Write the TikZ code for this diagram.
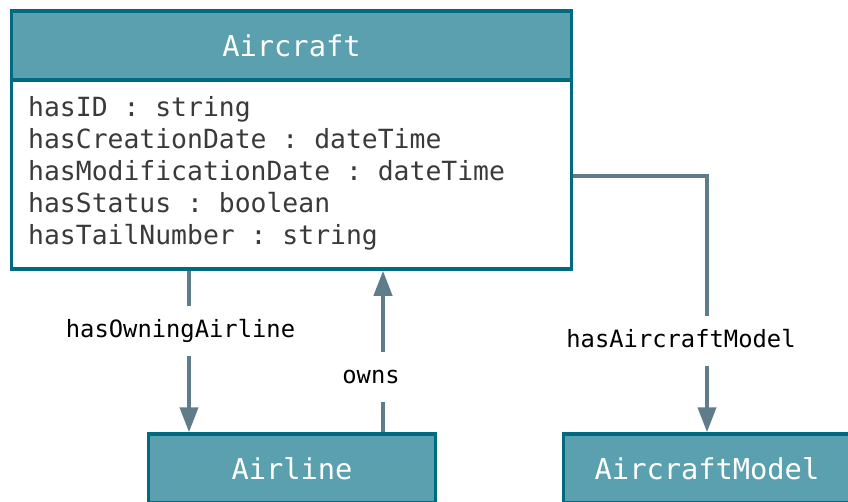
\documentclass[tikz,border=0pt]{standalone}
\usepackage{fontspec}
\setmonofont{DejaVu Sans Mono}
\usetikzlibrary{arrows.meta}
\definecolor{clsfill}{RGB}{91,160,175}
\definecolor{clsline}{RGB}{0,106,128}
\definecolor{relline}{RGB}{94,124,138}
\definecolor{attrtext}{RGB}{58,58,58}
\tikzset{
  clshead/.style={draw=clsline,line width=3.5pt,fill=clsfill,text=white,minimum width=287pt,minimum height=69pt,inner sep=0pt,font=\ttfamily\fontsize{28.7}{34}\selectfont},
  clsbody/.style={draw=clsline,line width=3.5pt,fill=white,minimum width=560pt,minimum height=189pt,inner sep=0pt},
  attr/.style={anchor=base west,inner sep=0pt,text=attrtext,font=\ttfamily\fontsize{26.4}{32}\selectfont},
  rel/.style={draw=relline,line width=4pt,-{Triangle[length=25pt,width=18pt]}},
  rellabel/.style={fill=white,text=black,inner xsep=4pt,inner ysep=14pt,text height=17pt,text depth=5pt,font=\ttfamily\fontsize{23.8}{28}\selectfont}
}
\begin{document}
\begin{tikzpicture}[x=1pt,y=-1pt]
\useasboundingbox (0,0) rectangle (848,501);
\clip (0,0) rectangle (848,501);
% class Aircraft
\node (ACbody) [clsbody] at (291.5,174.5) {};
\node (AC) [clshead,minimum width=560pt] at (291.5,45.5) {Aircraft};
\foreach \t [count=\i] in {hasID : string,hasCreationDate : dateTime,hasModificationDate : dateTime,hasStatus : boolean,hasTailNumber : string}
  \node (attr\i) [attr] at (28,84+32*\i) {\t};
% related classes
\node (AL) [clshead] at (292,468.5) {Airline};
\node (ACM) [clshead] at (707,468.5) {AircraftModel};
% relations
\draw[rel] ([xshift=-103pt]AL.north |- ACbody.south) -- ([xshift=-103pt]AL.north) node[rellabel,pos=.375,xshift=-8.5pt] {hasOwningAirline};
\draw[rel] ([xshift=91pt]AL.north) -- ([xshift=91pt]AL.north |- ACbody.south) node[rellabel,pos=.34,xshift=-12pt] {owns};
\draw[rel] (ACbody.east |- 0,176) -| (ACM.north) node[rellabel,pos=.822,xshift=-26pt] {hasAircraftModel};
\end{tikzpicture}
\end{document}
